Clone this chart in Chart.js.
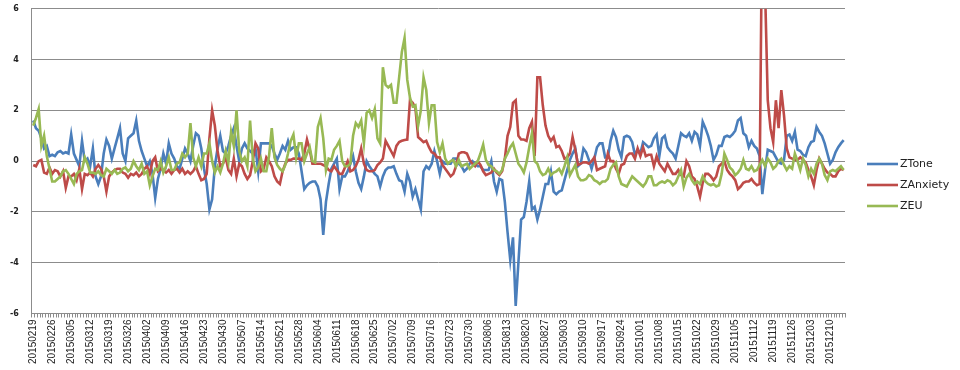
<!DOCTYPE html>
<html>
<head>
<meta charset="utf-8">
<script src="https://cdn.jsdelivr.net/npm/chart.js@4.4.1/dist/chart.umd.min.js"></script>
<style>
  html, body { margin:0; padding:0; background:#fff; }
  #wrap { width:960px; height:370px; position:relative; }
</style>
</head>
<body>
<div id="wrap"><canvas id="chart"></canvas></div>
<script>
// daily series, one value per day from 2015-02-19
const startDate = '2015-02-19';
const dayCount = 300;
const labelEvery = 7;

const seriesNames = ['ZTone', 'ZAnxiety', 'ZEU'];
const seriesColors = ['#4a7ebb', '#be4b48', '#98b954'];

const ztone = [
  1.6, 1.3, 1.2, 0.9, 0.5, 0.6, 0.2, 0.25, 0.2, 0.35,
  0.4, 0.3, 0.35, 0.3, 1.05, 0.3, 0.05, -0.2, 0.8, 0.0,
  0.1, -0.2, 0.5, -0.6, -0.9, -0.6, 0.3, 0.85, 0.6, 0.1,
  0.5, 0.9, 1.3, 0.3, 0.0, 0.9, 1.0, 1.1, 1.6, 0.8,
  0.4, 0.1, -0.2, 0.0, -0.5, -1.45, -0.7, -0.3, 0.3, -0.1,
  0.7, 0.3, 0.1, -0.2, -0.3, 0.1, 0.5, 0.3, 0.0, 0.6,
  1.1, 1.0, 0.5, -0.3, -0.9, -1.9, -1.5, -0.2, 0.5, 1.0,
  0.4, 0.3, 0.6, 1.0, 1.3, 0.6, 0.0, 0.5, 0.7, 0.5,
  0.4, 0.3, 0.5, -0.4, 0.7, 0.7, 0.7, 0.7, 0.6, 0.3,
  0.05, 0.3, 0.6, 0.45, 0.8, 0.45, 0.55, 0.55, 0.3, -0.4,
  -1.1, -0.95, -0.85, -0.8, -0.8, -1.0, -1.5, -2.9, -1.6, -0.9,
  -0.3, -0.1, 0.1, -1.1, -0.6, -0.6, -0.4, -0.1, 0.2, -0.4,
  -0.85, -1.1, -0.6, 0.0, -0.2, -0.35, -0.5, -0.6, -1.0, -0.6,
  -0.35, -0.25, -0.25, -0.2, -0.5, -0.75, -0.8, -1.2, -0.5, -0.8,
  -1.4, -1.1, -1.5, -1.9, -0.4, -0.2, -0.3, -0.1, 0.4, 0.0,
  -0.5, 0.0, -0.1, -0.1, -0.1, 0.1, 0.1, -0.1, -0.2, -0.4,
  -0.3, -0.1, 0.0, -0.1, -0.2, -0.2, -0.35, -0.35, -0.35, 0.0,
  -0.8, -1.2, -0.7, -0.75, -1.6, -2.8, -3.9, -3.0, -5.7, -4.0,
  -2.3, -2.2, -1.6, -0.8, -1.9, -1.8, -2.3, -1.9, -1.4, -0.9,
  -0.9, -0.4, -1.2, -1.3, -1.2, -1.15, -0.75, -0.35, 0.05, 0.3,
  0.5, -0.2, -0.1, 0.5, 0.35, 0.05, -0.3, 0.1, 0.55, 0.7,
  0.7, 0.15, 0.15, 0.8, 1.2, 0.95, 0.45, 0.15, 0.95, 1.0,
  0.95, 0.75, 0.25, 0.45, 0.3, 0.75, 0.65, 0.55, 0.6, 0.9,
  1.05, 0.2, 0.9, 1.0, 0.55, 0.4, 0.3, 0.1, 0.6, 1.1,
  1.0, 0.95, 1.1, 0.8, 1.15, 1.05, 0.6, 1.55, 1.3, 1.0,
  0.6, 0.05, 0.25, 0.6, 0.6, 0.95, 1.0, 0.95, 1.05, 1.2,
  1.6, 1.7, 1.1, 1.0, 0.55, 0.8, 0.6, 0.5, 0.2, -1.3,
  -0.35, 0.45, 0.4, 0.35, 0.15, -0.05, -0.1, 0.05, 1.0, 1.05,
  0.8, 1.15, 0.45, 0.4, 0.25, 0.2, 0.55, 0.75, 0.8, 1.35,
  1.15, 1.0, 0.7, 0.3, -0.1, 0.05, 0.35, 0.55, 0.7, 0.83
];

const zanxiety = [
  -0.15, -0.2, 0.0, 0.05, -0.45, -0.5, -0.25, -0.5, -0.35, -0.4,
  -0.6, -0.4, -1.05, -0.6, -0.6, -0.5, -0.75, -0.3, -1.1, -0.5,
  -0.55, -0.45, -0.6, -0.3, -0.15, -0.3, -0.6, -1.2, -0.6, -0.45,
  -0.35, -0.3, -0.3, -0.45, -0.5, -0.65, -0.5, -0.55, -0.45, -0.6,
  -0.5, -0.3, -0.2, -0.5, 0.0, 0.15, -0.4, -0.3, -0.35, -0.45,
  -0.35, -0.5, -0.35, -0.3, -0.45, -0.3, -0.5, -0.4, -0.5, -0.4,
  -0.2, -0.5, -0.75, -0.7, -0.5, 0.9, 2.0, 1.4, 0.4, -0.2,
  -0.1, 0.15, -0.35, -0.5, 0.1, -0.6, -0.1, -0.2, -0.5, -0.7,
  -0.55, 0.0, 0.7, 0.5, -0.4, -0.3, 0.15, 0.0, -0.2, -0.6,
  -0.8, -0.9, -0.4, -0.1, 0.05, 0.05, 0.1, 0.1, 0.1, 0.05,
  0.3, 0.85, 0.45, -0.1, -0.1, -0.1, -0.1, -0.15, -0.2, -0.35,
  -0.4, -0.2, -0.35, -0.5, -0.5, -0.25, 0.0, -0.4, -0.35, -0.2,
  0.05, 0.5, -0.1, -0.35, -0.4, -0.4, -0.35, -0.15, -0.05, 0.1,
  0.8, 0.6, 0.4, 0.2, 0.6, 0.75, 0.8, 0.83, 0.85, 2.4,
  2.3, 2.1, 0.95, 0.85, 0.75, 0.8, 0.55, 0.35, 0.3, 0.15,
  0.15, -0.15, -0.3, -0.45, -0.6, -0.5, -0.2, 0.3, 0.35, 0.35,
  0.3, 0.05, -0.1, -0.2, 0.0, -0.15, -0.4, -0.55, -0.5, -0.45,
  -0.3, -0.45, -0.55, -0.4, 0.1, 1.0, 1.35, 2.3, 2.4, 1.0,
  0.85, 0.85, 0.8, 1.3, 1.55, 0.2, 3.3, 3.3, 2.2, 1.4,
  1.0, 0.8, 0.95, 0.55, 0.6, 0.4, 0.1, 0.15, 0.3, 0.95,
  0.45, -0.15, -0.1, -0.05, -0.05, -0.1, 0.0, 0.15, -0.35, -0.3,
  -0.25, -0.2, 0.3, 0.0, 0.0, -0.3, -0.5, -0.15, -0.1, 0.2,
  0.3, 0.3, 0.1, 0.5, 0.2, 0.55, 0.2, 0.25, 0.25, -0.2,
  0.2, -0.1, -0.25, -0.4, -0.1, -0.3, -0.5, -0.5, -0.35, -0.55,
  -0.6, 0.0, -0.2, -0.6, -0.7, -1.0, -1.4, -0.85, -0.5, -0.5,
  -0.6, -0.75, -0.6, -0.2, -0.1, 0.0, -0.35, -0.5, -0.6, -0.75,
  -1.1, -1.0, -0.85, -0.8, -0.8, -0.7, -0.85, -0.95, -0.9, 10.5,
  6.8, 2.4, 1.3, 0.75, 2.4, 1.3, 2.8, 1.8, 0.5, 0.15,
  0.1, 0.05, 0.05, 0.15, 0.05, -0.05, -0.35, -0.6, -0.95, -0.35,
  0.1, -0.1, -0.3, -0.45, -0.5, -0.6, -0.6, -0.4, -0.3, -0.35
];

const zeu = [
  1.4, 1.7, 2.05, 0.6, 1.0, 0.2, -0.3, -0.8, -0.8, -0.7,
  -0.6, -0.4, -0.35, -0.5, -0.7, -0.9, -0.5, -0.4, -0.35, 0.15,
  -0.1, -0.45, -0.45, -0.5, -0.4, -0.55, -0.6, -0.3, -0.4, -0.5,
  -0.35, -0.5, -0.45, -0.3, -0.25, -0.4, -0.3, 0.0, -0.2, -0.35,
  -0.1, -0.5, -0.4, -0.95, -0.6, -0.3, -0.35, 0.0, -0.45, -0.2,
  0.15, -0.35, -0.35, -0.1, -0.05, 0.3, 0.15, 0.3, 1.5, 0.15,
  -0.2, 0.15, -0.2, 0.3, 0.3, 0.7, 0.0, -0.45, -0.2, -0.45,
  -0.1, 0.4, -0.05, 1.15, 0.6, 2.0, 0.4, 0.0, 0.15, -0.2,
  1.6, 0.1, -0.4, -0.25, 0.1, -0.4, -0.4, 0.2, 1.3, 0.15,
  -0.15, -0.3, -0.4, -0.15, 0.3, 0.8, 1.05, 0.15, 0.7, 0.7,
  0.0, 0.3, 0.55, 0.0, -0.05, 1.35, 1.7, 0.9, -0.35, 0.1,
  0.05, 0.45, 0.6, 0.8, 0.0, -0.2, -0.2, -0.1, 1.0, 1.5,
  1.35, 1.6, 0.7, 1.9, 2.0, 1.7, 2.05, 0.9, 0.7, 3.7,
  3.0, 2.9, 3.0, 2.3, 2.3, 3.3, 4.3, 4.85, 3.2, 2.5,
  2.15, 2.2, 1.4, 2.0, 3.3, 2.8, 1.5, 2.2, 2.2, 0.75,
  0.35, 0.7, 0.1, -0.1, 0.0, 0.05, -0.2, 0.05, -0.2, -0.15,
  -0.1, -0.3, -0.2, -0.1, 0.0, 0.3, 0.65, 0.05, -0.15, -0.2,
  -0.35, -0.4, -0.5, -0.35, 0.1, 0.3, 0.55, 0.7, 0.3, -0.1,
  -0.25, -0.45, -0.05, 0.55, 1.1, 0.0, -0.1, -0.4, -0.55, -0.5,
  -0.3, -0.55, -0.45, -0.4, -0.3, -0.5, -0.2, 0.15, -0.55, -0.35,
  -0.15, -0.6, -0.75, -0.75, -0.7, -0.55, -0.6, -0.75, -0.8, -0.9,
  -0.8, -0.8, -0.7, -0.3, -0.15, -0.05, -0.6, -0.9, -0.95, -1.0,
  -0.8, -0.6, -0.7, -0.8, -0.9, -1.0, -0.85, -0.6, -0.6, -0.95,
  -0.95, -0.85, -0.8, -0.85, -0.75, -0.8, -0.95, -0.85, -0.6, -0.35,
  -1.0, -0.65, -0.5, -0.75, -0.9, -0.8, -0.9, -0.6, -0.8, -0.9,
  -0.95, -0.9, -1.0, -0.95, -0.5, 0.3, 0.05, -0.25, -0.35, -0.55,
  -0.45, -0.3, 0.05, -0.3, -0.35, -0.2, -0.4, -0.35, -0.15, 0.05,
  -0.2, 0.1, -0.05, -0.3, -0.2, 0.0, 0.1, -0.15, -0.35, -0.2,
  -0.3, 0.3, 0.0, -0.35, 0.1, -0.15, -0.6, -0.3, -0.5, -0.1,
  0.1, -0.1, -0.55, -0.75, -0.4, -0.35, -0.4, -0.3, -0.2, -0.35
];

// category labels yyyymmdd
const dates = [];
const d0 = new Date(startDate + 'T00:00:00Z');
for (let i = 0; i < dayCount; i++) {
  const d = new Date(d0.getTime() + i * 86400000);
  dates.push(
    d.getUTCFullYear() +
    String(d.getUTCMonth() + 1).padStart(2, '0') +
    String(d.getUTCDate()).padStart(2, '0')
  );
}

const axisGrey = '#8c8c8c';

// legend drawn by hand so it can sit where Excel puts it
const sideLegend = {
  id: 'sideLegend',
  afterDraw(chart) {
    const ctx = chart.ctx;
    const x0 = chart.chartArea.right + 22;
    const yMid = chart.height / 2;
    ctx.save();
    ctx.font = '11px "DejaVu Sans"';
    ctx.textBaseline = 'middle';
    chart.data.datasets.forEach((ds, i) => {
      const y = yMid + (i - 1) * 21;
      ctx.strokeStyle = ds.borderColor;
      ctx.lineWidth = 2.6;
      ctx.beginPath();
      ctx.moveTo(x0, y);
      ctx.lineTo(x0 + 31, y);
      ctx.stroke();
      ctx.fillStyle = '#222';
      ctx.fillText(ds.label, x0 + 33, y);
    });
    ctx.restore();
  }
};

new Chart(document.getElementById('chart'), {
  type: 'line',
  data: {
    labels: dates,
    datasets: [
      { label: seriesNames[0], data: ztone, borderColor: seriesColors[0], order: 2 },
      { label: seriesNames[1], data: zanxiety, borderColor: seriesColors[1], order: 1 },
      { label: seriesNames[2], data: zeu, borderColor: seriesColors[2], order: 0 }
    ]
  },
  options: {
    responsive: true,
    maintainAspectRatio: false,
    animation: false,
    devicePixelRatio: 1,
    layout: { padding: { left: 6, top: 0, right: 115, bottom: 4 } },
    elements: {
      line: { borderWidth: 2.6, tension: 0 },
      point: { radius: 0, hoverRadius: 0 }
    },
    plugins: {
      tooltip: { enabled: false },
      legend: { display: false }
    },
    scales: {
      x: {
        offset: true,
        grid: { offset: true, drawOnChartArea: false, drawTicks: true, tickLength: 4, color: axisGrey },
        border: { color: axisGrey },
        ticks: {
          autoSkip: false,
          minRotation: 90,
          maxRotation: 90,
          padding: 2,
          color: '#222',
          font: { family: 'Liberation Sans', size: 10 },
          callback: (v, i) => (i % labelEvery === 0 ? dates[i] : '')
        }
      },
      y: {
        min: -6,
        max: 6,
        ticks: { stepSize: 2, padding: 4, color: '#222', font: { family: 'DejaVu Sans', size: 8, weight: 'bold' } },
        grid: { color: axisGrey, drawTicks: true, tickLength: 9, tickColor: 'rgba(0,0,0,0)' },
        border: { color: axisGrey }
      }
    }
  },
  plugins: [sideLegend]
});
</script>
</body>
</html>
